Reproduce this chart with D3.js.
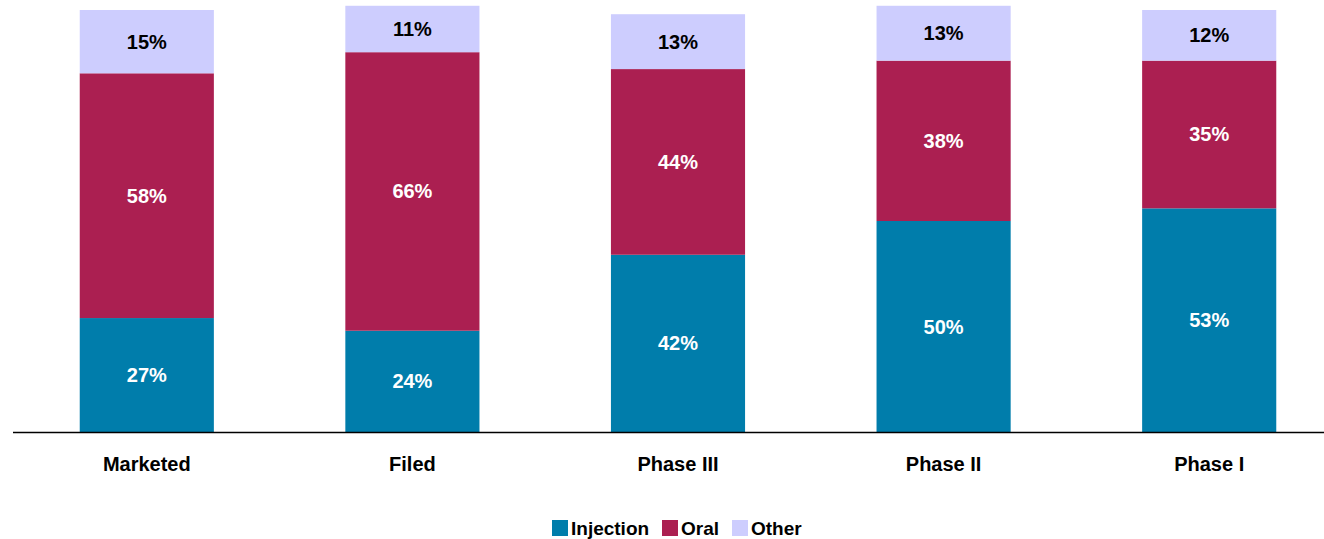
<!DOCTYPE html>
<html>
<head>
<meta charset="utf-8">
<script src="https://cdn.jsdelivr.net/npm/d3@7"></script>
<style>
  html, body { margin: 0; padding: 0; background: #fff; }
  svg { display: block; font-family: "Liberation Sans", Arial, Helvetica, sans-serif; }
</style>
</head>
<body>
<svg id="chart" width="1324" height="539"></svg>
<script>
// Development stage categories and route-of-administration shares (%)
const categories = ["Marketed", "Filed", "Phase III", "Phase II", "Phase I"];
const seriesNames = ["Injection", "Oral", "Other"];
const injection = [27, 24, 42, 50, 53];
const oral = [58, 66, 44, 38, 35];
const other = [15, 11, 13, 13, 12];
const seriesColors = ["#007dab", "#ab1f51", "#cdcdfe"];
const labelColors = ["#ffffff", "#ffffff", "#000000"];

const rows = categories.map((c, i) => ({ category: c, Injection: injection[i], Oral: oral[i], Other: other[i] }));

const svg = d3.select("#chart");
const baseY = 432;

const x = d3.scaleBand()
  .domain(categories)
  .range([14, 1342])
  .paddingInner(0.495)
  .paddingOuter(0.2475);

const y = d3.scaleLinear()
  .domain([0, 100])
  .range([baseY, 10]);

const stack = d3.stack().keys(seriesNames);
const layers = stack(rows);

const g = svg.append("g");

layers.forEach((layer, li) => {
  const lg = g.append("g");
  lg.selectAll("rect")
    .data(layer)
    .join("rect")
    .attr("x", d => x(d.data.category))
    .attr("width", x.bandwidth())
    .attr("y", d => y(d[1]))
    .attr("height", d => y(d[0]) - y(d[1]))
    .attr("fill", seriesColors[li]);
  lg.selectAll("text")
    .data(layer)
    .join("text")
    .attr("x", d => x(d.data.category) + x.bandwidth() / 2)
    .attr("y", d => (y(d[0]) + y(d[1])) / 2)
    .attr("dy", "0.35em")
    .attr("text-anchor", "middle")
    .attr("font-size", 20)
    .attr("font-weight", "bold")
    .attr("fill", labelColors[li])
    .text(d => `${d.data[seriesNames[li]]}%`);
});

// Category axis along the baseline
const axis = d3.axisBottom(x).tickSize(0).tickPadding(25);
const axisG = svg.append("g")
  .attr("transform", `translate(0,${baseY})`)
  .call(axis);
axisG.select(".domain")
  .attr("d", `M13,0.5H1324`)
  .attr("stroke", "#000")
  .attr("stroke-width", 1.5);
axisG.selectAll(".tick text")
  .attr("font-size", 20)
  .attr("font-weight", "bold")
  .attr("font-family", "\"Liberation Sans\", Arial, sans-serif")
  .attr("fill", "#000");

// Legend
const legendItems = [
  { name: "Injection", x: 552 },
  { name: "Oral", x: 662 },
  { name: "Other", x: 732 }
];
const legend = svg.append("g");
legendItems.forEach((it, i) => {
  legend.append("rect")
    .attr("x", it.x)
    .attr("y", 520)
    .attr("width", 16)
    .attr("height", 16)
    .attr("fill", seriesColors[i]);
  legend.append("text")
    .attr("x", it.x + 19)
    .attr("y", 528)
    .attr("dy", "0.35em")
    .attr("font-size", 19)
    .attr("font-weight", "bold")
    .attr("fill", "#000")
    .text(it.name);
});
</script>
</body>
</html>
